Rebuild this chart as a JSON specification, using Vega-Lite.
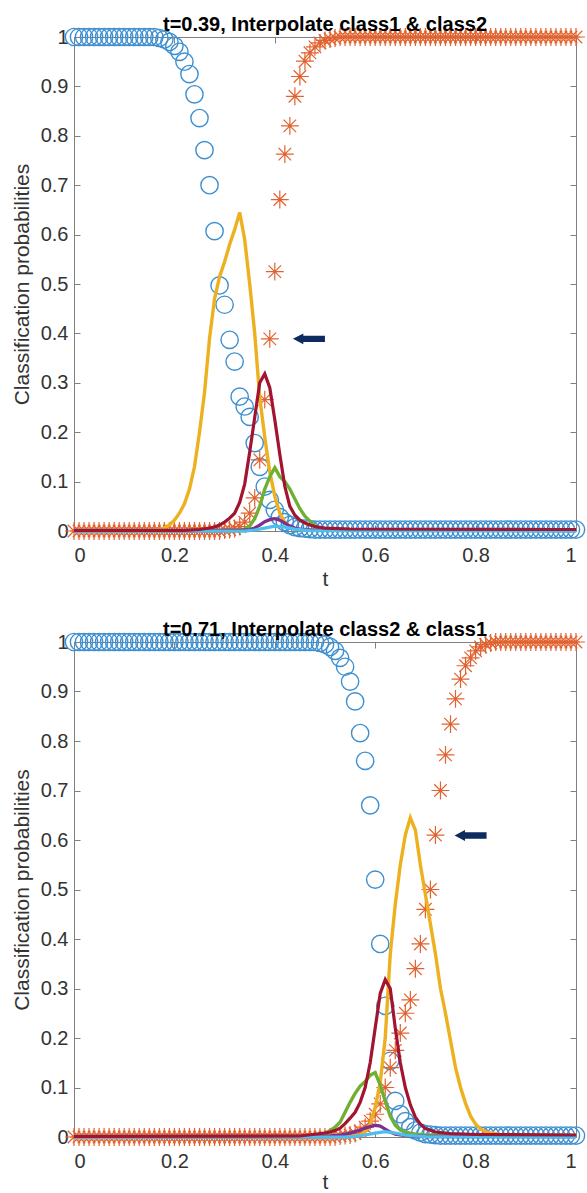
{
  "$schema": "https://vega.github.io/schema/vega-lite/v6.json",
  "padding": {"left": 11, "top": 14, "right": 0, "bottom": 0},
  "spacing": 30,
  "config": {
    "font": "Liberation Sans",
    "view": {"stroke": null},
    "axis": {
      "grid": false,
      "domainColor": "#808080",
      "tickColor": "#808080",
      "domainWidth": 1,
      "tickWidth": 1,
      "tickSize": -6,
      "labelColor": "#333333",
      "labelFontSize": 20,
      "titleFontSize": 21,
      "titleFontWeight": "normal",
      "titleColor": "#333333"
    },
    "title": {"fontSize": 20, "fontWeight": "bold", "color": "#000000", "anchor": "middle", "baseline": "alphabetic", "offset": -9}
  },
  "datasets": {
    "pts1": [
      {"t":0,"c1":1,"c2":0},{"t":0.01,"c1":1,"c2":0},{"t":0.02,"c1":1,"c2":0},{"t":0.03,"c1":1,"c2":0},{"t":0.04,"c1":1,"c2":0},
      {"t":0.05,"c1":1,"c2":0},{"t":0.06,"c1":1,"c2":0},{"t":0.07,"c1":1,"c2":0},{"t":0.08,"c1":1,"c2":0},{"t":0.09,"c1":1,"c2":0},
      {"t":0.1,"c1":1,"c2":0},{"t":0.11,"c1":1,"c2":0},{"t":0.12,"c1":1,"c2":0},{"t":0.13,"c1":1,"c2":0},{"t":0.14,"c1":1,"c2":0},
      {"t":0.15,"c1":1,"c2":0},{"t":0.16,"c1":1,"c2":0},{"t":0.17,"c1":0.998,"c2":0},{"t":0.18,"c1":0.995,"c2":0},{"t":0.19,"c1":0.99,"c2":0},
      {"t":0.2,"c1":0.982,"c2":0},{"t":0.21,"c1":0.97,"c2":0},{"t":0.22,"c1":0.95,"c2":0},{"t":0.23,"c1":0.925,"c2":0},{"t":0.24,"c1":0.884,"c2":0},
      {"t":0.25,"c1":0.836,"c2":0},{"t":0.26,"c1":0.771,"c2":0},{"t":0.27,"c1":0.7,"c2":0},{"t":0.28,"c1":0.607,"c2":0},{"t":0.29,"c1":0.497,"c2":0},
      {"t":0.3,"c1":0.458,"c2":0.002},{"t":0.31,"c1":0.387,"c2":0.003},{"t":0.32,"c1":0.343,"c2":0.005},{"t":0.33,"c1":0.272,"c2":0.009},{"t":0.34,"c1":0.252,"c2":0.018},
      {"t":0.35,"c1":0.231,"c2":0.036},{"t":0.36,"c1":0.178,"c2":0.067},{"t":0.37,"c1":0.13,"c2":0.144},{"t":0.38,"c1":0.09,"c2":0.266},{"t":0.39,"c1":0.063,"c2":0.389},
      {"t":0.4,"c1":0.043,"c2":0.525},{"t":0.41,"c1":0.028,"c2":0.671},{"t":0.42,"c1":0.018,"c2":0.763},{"t":0.43,"c1":0.012,"c2":0.82},{"t":0.44,"c1":0.008,"c2":0.88},
      {"t":0.45,"c1":0.006,"c2":0.92},{"t":0.46,"c1":0.005,"c2":0.951},{"t":0.47,"c1":0.004,"c2":0.968},{"t":0.48,"c1":0.003,"c2":0.98},{"t":0.49,"c1":0.003,"c2":0.988},
      {"t":0.5,"c1":0.003,"c2":0.993},{"t":0.51,"c1":0.003,"c2":0.996},{"t":0.52,"c1":0.003,"c2":0.998},{"t":0.53,"c1":0.003,"c2":1},{"t":0.54,"c1":0.003,"c2":1},
      {"t":0.55,"c1":0.003,"c2":1},{"t":0.56,"c1":0.003,"c2":1},{"t":0.57,"c1":0.003,"c2":1},{"t":0.58,"c1":0.003,"c2":1},{"t":0.59,"c1":0.003,"c2":1},
      {"t":0.6,"c1":0.003,"c2":1},{"t":0.61,"c1":0.003,"c2":1},{"t":0.62,"c1":0.003,"c2":1},{"t":0.63,"c1":0.003,"c2":1},{"t":0.64,"c1":0.003,"c2":1},
      {"t":0.65,"c1":0.003,"c2":1},{"t":0.66,"c1":0.003,"c2":1},{"t":0.67,"c1":0.003,"c2":1},{"t":0.68,"c1":0.003,"c2":1},{"t":0.69,"c1":0.003,"c2":1},
      {"t":0.7,"c1":0.003,"c2":1},{"t":0.71,"c1":0.003,"c2":1},{"t":0.72,"c1":0.003,"c2":1},{"t":0.73,"c1":0.003,"c2":1},{"t":0.74,"c1":0.003,"c2":1},
      {"t":0.75,"c1":0.003,"c2":1},{"t":0.76,"c1":0.003,"c2":1},{"t":0.77,"c1":0.003,"c2":1},{"t":0.78,"c1":0.003,"c2":1},{"t":0.79,"c1":0.003,"c2":1},
      {"t":0.8,"c1":0.003,"c2":1},{"t":0.81,"c1":0.003,"c2":1},{"t":0.82,"c1":0.003,"c2":1},{"t":0.83,"c1":0.003,"c2":1},{"t":0.84,"c1":0.003,"c2":1},
      {"t":0.85,"c1":0.003,"c2":1},{"t":0.86,"c1":0.003,"c2":1},{"t":0.87,"c1":0.003,"c2":1},{"t":0.88,"c1":0.003,"c2":1},{"t":0.89,"c1":0.003,"c2":1},
      {"t":0.9,"c1":0.003,"c2":1},{"t":0.91,"c1":0.003,"c2":1},{"t":0.92,"c1":0.003,"c2":1},{"t":0.93,"c1":0.003,"c2":1},{"t":0.94,"c1":0.003,"c2":1},
      {"t":0.95,"c1":0.003,"c2":1},{"t":0.96,"c1":0.003,"c2":1},{"t":0.97,"c1":0.003,"c2":1},{"t":0.98,"c1":0.003,"c2":1},{"t":0.99,"c1":0.003,"c2":1},
      {"t":1,"c1":0.003,"c2":1}
    ],
    "lines1": [
      {"s":"yellow","t":0,"p":0.001},{"s":"yellow","t":0.15,"p":0.001},{"s":"yellow","t":0.16,"p":0.002},{"s":"yellow","t":0.17,"p":0.003},{"s":"yellow","t":0.18,"p":0.006},
      {"s":"yellow","t":0.19,"p":0.012},{"s":"yellow","t":0.2,"p":0.022},{"s":"yellow","t":0.21,"p":0.036},{"s":"yellow","t":0.22,"p":0.055},{"s":"yellow","t":0.23,"p":0.085},
      {"s":"yellow","t":0.24,"p":0.13},{"s":"yellow","t":0.25,"p":0.2},{"s":"yellow","t":0.26,"p":0.28},{"s":"yellow","t":0.27,"p":0.39},{"s":"yellow","t":0.28,"p":0.47},
      {"s":"yellow","t":0.29,"p":0.515},{"s":"yellow","t":0.3,"p":0.545},{"s":"yellow","t":0.31,"p":0.58},{"s":"yellow","t":0.32,"p":0.61},{"s":"yellow","t":0.33,"p":0.645},
      {"s":"yellow","t":0.34,"p":0.59},{"s":"yellow","t":0.35,"p":0.5},{"s":"yellow","t":0.36,"p":0.4},{"s":"yellow","t":0.37,"p":0.27},{"s":"yellow","t":0.38,"p":0.19},
      {"s":"yellow","t":0.39,"p":0.12},{"s":"yellow","t":0.4,"p":0.07},{"s":"yellow","t":0.41,"p":0.036},{"s":"yellow","t":0.42,"p":0.017},{"s":"yellow","t":0.43,"p":0.008},
      {"s":"yellow","t":0.44,"p":0.004},{"s":"yellow","t":0.46,"p":0.002},{"s":"yellow","t":1,"p":0.001},
      {"s":"green","t":0,"p":0.001},{"s":"green","t":0.3,"p":0.001},{"s":"green","t":0.33,"p":0.002},{"s":"green","t":0.34,"p":0.004},{"s":"green","t":0.35,"p":0.01},
      {"s":"green","t":0.36,"p":0.025},{"s":"green","t":0.37,"p":0.05},{"s":"green","t":0.38,"p":0.085},{"s":"green","t":0.39,"p":0.11},{"s":"green","t":0.4,"p":0.128},
      {"s":"green","t":0.41,"p":0.11},{"s":"green","t":0.42,"p":0.1},{"s":"green","t":0.43,"p":0.085},{"s":"green","t":0.44,"p":0.065},{"s":"green","t":0.45,"p":0.045},
      {"s":"green","t":0.46,"p":0.03},{"s":"green","t":0.47,"p":0.02},{"s":"green","t":0.48,"p":0.01},{"s":"green","t":0.49,"p":0.005},{"s":"green","t":0.5,"p":0.003},{"s":"green","t":1,"p":0.002},
      {"s":"purple","t":0,"p":0.001},{"s":"purple","t":0.33,"p":0.001},{"s":"purple","t":0.35,"p":0.003},{"s":"purple","t":0.36,"p":0.006},{"s":"purple","t":0.37,"p":0.012},
      {"s":"purple","t":0.38,"p":0.019},{"s":"purple","t":0.39,"p":0.023},{"s":"purple","t":0.4,"p":0.025},{"s":"purple","t":0.41,"p":0.022},{"s":"purple","t":0.42,"p":0.016},
      {"s":"purple","t":0.43,"p":0.01},{"s":"purple","t":0.44,"p":0.006},{"s":"purple","t":0.45,"p":0.004},{"s":"purple","t":0.47,"p":0.002},{"s":"purple","t":1,"p":0.001},
      {"s":"cyan","t":0,"p":0},{"s":"cyan","t":0.34,"p":0},{"s":"cyan","t":0.36,"p":0.002},{"s":"cyan","t":0.38,"p":0.006},{"s":"cyan","t":0.4,"p":0.01},
      {"s":"cyan","t":0.42,"p":0.008},{"s":"cyan","t":0.44,"p":0.004},{"s":"cyan","t":0.47,"p":0.001},{"s":"cyan","t":1,"p":0},
      {"s":"red","t":0,"p":0.001},{"s":"red","t":0.22,"p":0.001},{"s":"red","t":0.25,"p":0.003},{"s":"red","t":0.27,"p":0.006},{"s":"red","t":0.28,"p":0.008},
      {"s":"red","t":0.29,"p":0.012},{"s":"red","t":0.3,"p":0.018},{"s":"red","t":0.31,"p":0.026},{"s":"red","t":0.32,"p":0.036},{"s":"red","t":0.33,"p":0.058},
      {"s":"red","t":0.34,"p":0.095},{"s":"red","t":0.35,"p":0.16},{"s":"red","t":0.36,"p":0.23},{"s":"red","t":0.37,"p":0.3},{"s":"red","t":0.38,"p":0.318},
      {"s":"red","t":0.39,"p":0.29},{"s":"red","t":0.4,"p":0.225},{"s":"red","t":0.41,"p":0.155},{"s":"red","t":0.42,"p":0.09},{"s":"red","t":0.43,"p":0.05},
      {"s":"red","t":0.44,"p":0.032},{"s":"red","t":0.45,"p":0.022},{"s":"red","t":0.46,"p":0.016},{"s":"red","t":0.47,"p":0.012},{"s":"red","t":0.48,"p":0.009},
      {"s":"red","t":0.5,"p":0.006},{"s":"red","t":0.55,"p":0.004},{"s":"red","t":1,"p":0.003}
    ],
    "arrow1": [{"t":0.468,"p":0.389}],
    "pts2": [
      {"t":0,"c1":1,"c2":0},{"t":0.01,"c1":1,"c2":0},{"t":0.02,"c1":1,"c2":0},{"t":0.03,"c1":1,"c2":0},{"t":0.04,"c1":1,"c2":0},
      {"t":0.05,"c1":1,"c2":0},{"t":0.06,"c1":1,"c2":0},{"t":0.07,"c1":1,"c2":0},{"t":0.08,"c1":1,"c2":0},{"t":0.09,"c1":1,"c2":0},
      {"t":0.1,"c1":1,"c2":0},{"t":0.11,"c1":1,"c2":0},{"t":0.12,"c1":1,"c2":0},{"t":0.13,"c1":1,"c2":0},{"t":0.14,"c1":1,"c2":0},
      {"t":0.15,"c1":1,"c2":0},{"t":0.16,"c1":1,"c2":0},{"t":0.17,"c1":1,"c2":0},{"t":0.18,"c1":1,"c2":0},{"t":0.19,"c1":1,"c2":0},
      {"t":0.2,"c1":1,"c2":0},{"t":0.21,"c1":1,"c2":0},{"t":0.22,"c1":1,"c2":0},{"t":0.23,"c1":1,"c2":0},{"t":0.24,"c1":1,"c2":0},
      {"t":0.25,"c1":1,"c2":0},{"t":0.26,"c1":1,"c2":0},{"t":0.27,"c1":1,"c2":0},{"t":0.28,"c1":1,"c2":0},{"t":0.29,"c1":1,"c2":0},
      {"t":0.3,"c1":1,"c2":0},{"t":0.31,"c1":1,"c2":0},{"t":0.32,"c1":1,"c2":0},{"t":0.33,"c1":1,"c2":0},{"t":0.34,"c1":1,"c2":0},
      {"t":0.35,"c1":1,"c2":0},{"t":0.36,"c1":1,"c2":0},{"t":0.37,"c1":1,"c2":0},{"t":0.38,"c1":1,"c2":0},{"t":0.39,"c1":1,"c2":0},
      {"t":0.4,"c1":1,"c2":0},{"t":0.41,"c1":1,"c2":0},{"t":0.42,"c1":1,"c2":0},{"t":0.43,"c1":1,"c2":0},{"t":0.44,"c1":1,"c2":0},
      {"t":0.45,"c1":1,"c2":0},{"t":0.46,"c1":1,"c2":0},{"t":0.47,"c1":1,"c2":0},{"t":0.48,"c1":1,"c2":0},{"t":0.49,"c1":0.998,"c2":0},
      {"t":0.5,"c1":0.995,"c2":0},{"t":0.51,"c1":0.99,"c2":0},{"t":0.52,"c1":0.982,"c2":0},{"t":0.53,"c1":0.968,"c2":0.002},{"t":0.54,"c1":0.95,"c2":0.003},
      {"t":0.55,"c1":0.92,"c2":0.004},{"t":0.56,"c1":0.88,"c2":0.007},{"t":0.57,"c1":0.816,"c2":0.012},{"t":0.58,"c1":0.76,"c2":0.02},{"t":0.59,"c1":0.67,"c2":0.032},
      {"t":0.6,"c1":0.52,"c2":0.046},{"t":0.61,"c1":0.39,"c2":0.067},{"t":0.62,"c1":0.265,"c2":0.1},{"t":0.63,"c1":0.154,"c2":0.14},{"t":0.64,"c1":0.073,"c2":0.175},
      {"t":0.65,"c1":0.046,"c2":0.21},{"t":0.66,"c1":0.032,"c2":0.25},{"t":0.67,"c1":0.02,"c2":0.277},{"t":0.68,"c1":0.013,"c2":0.34},{"t":0.69,"c1":0.009,"c2":0.39},
      {"t":0.7,"c1":0.006,"c2":0.46},{"t":0.71,"c1":0.005,"c2":0.5},{"t":0.72,"c1":0.004,"c2":0.61},{"t":0.73,"c1":0.003,"c2":0.7},{"t":0.74,"c1":0.003,"c2":0.772},
      {"t":0.75,"c1":0.003,"c2":0.834},{"t":0.76,"c1":0.003,"c2":0.885},{"t":0.77,"c1":0.003,"c2":0.925},{"t":0.78,"c1":0.003,"c2":0.952},{"t":0.79,"c1":0.003,"c2":0.968},
      {"t":0.8,"c1":0.003,"c2":0.982},{"t":0.81,"c1":0.003,"c2":0.99},{"t":0.82,"c1":0.003,"c2":0.995},{"t":0.83,"c1":0.003,"c2":0.998},{"t":0.84,"c1":0.003,"c2":1},
      {"t":0.85,"c1":0.003,"c2":1},{"t":0.86,"c1":0.003,"c2":1},{"t":0.87,"c1":0.003,"c2":1},{"t":0.88,"c1":0.003,"c2":1},{"t":0.89,"c1":0.003,"c2":1},
      {"t":0.9,"c1":0.003,"c2":1},{"t":0.91,"c1":0.003,"c2":1},{"t":0.92,"c1":0.003,"c2":1},{"t":0.93,"c1":0.003,"c2":1},{"t":0.94,"c1":0.003,"c2":1},
      {"t":0.95,"c1":0.003,"c2":1},{"t":0.96,"c1":0.003,"c2":1},{"t":0.97,"c1":0.003,"c2":1},{"t":0.98,"c1":0.003,"c2":1},{"t":0.99,"c1":0.003,"c2":1},
      {"t":1,"c1":0.003,"c2":1}
    ],
    "lines2": [
      {"s":"yellow","t":0,"p":0.001},{"s":"yellow","t":0.55,"p":0.001},{"s":"yellow","t":0.57,"p":0.004},{"s":"yellow","t":0.58,"p":0.01},{"s":"yellow","t":0.59,"p":0.026},
      {"s":"yellow","t":0.6,"p":0.06},{"s":"yellow","t":0.61,"p":0.11},{"s":"yellow","t":0.62,"p":0.2},{"s":"yellow","t":0.63,"p":0.37},{"s":"yellow","t":0.64,"p":0.47},
      {"s":"yellow","t":0.65,"p":0.55},{"s":"yellow","t":0.66,"p":0.61},{"s":"yellow","t":0.67,"p":0.645},{"s":"yellow","t":0.68,"p":0.62},{"s":"yellow","t":0.69,"p":0.55},
      {"s":"yellow","t":0.7,"p":0.49},{"s":"yellow","t":0.71,"p":0.43},{"s":"yellow","t":0.72,"p":0.37},{"s":"yellow","t":0.73,"p":0.3},{"s":"yellow","t":0.74,"p":0.25},
      {"s":"yellow","t":0.75,"p":0.195},{"s":"yellow","t":0.76,"p":0.14},{"s":"yellow","t":0.77,"p":0.1},{"s":"yellow","t":0.78,"p":0.068},{"s":"yellow","t":0.79,"p":0.042},
      {"s":"yellow","t":0.8,"p":0.026},{"s":"yellow","t":0.81,"p":0.016},{"s":"yellow","t":0.82,"p":0.011},{"s":"yellow","t":0.83,"p":0.008},{"s":"yellow","t":0.85,"p":0.005},
      {"s":"yellow","t":0.9,"p":0.003},{"s":"yellow","t":1,"p":0.002},
      {"s":"green","t":0,"p":0.001},{"s":"green","t":0.45,"p":0.001},{"s":"green","t":0.48,"p":0.003},{"s":"green","t":0.5,"p":0.007},{"s":"green","t":0.51,"p":0.013},
      {"s":"green","t":0.52,"p":0.02},{"s":"green","t":0.53,"p":0.03},{"s":"green","t":0.54,"p":0.05},{"s":"green","t":0.55,"p":0.07},{"s":"green","t":0.56,"p":0.088},
      {"s":"green","t":0.57,"p":0.103},{"s":"green","t":0.58,"p":0.112},{"s":"green","t":0.59,"p":0.125},{"s":"green","t":0.6,"p":0.13},{"s":"green","t":0.61,"p":0.105},
      {"s":"green","t":0.62,"p":0.072},{"s":"green","t":0.63,"p":0.042},{"s":"green","t":0.64,"p":0.024},{"s":"green","t":0.65,"p":0.014},{"s":"green","t":0.66,"p":0.01},
      {"s":"green","t":0.68,"p":0.006},{"s":"green","t":0.7,"p":0.004},{"s":"green","t":1,"p":0.003},
      {"s":"purple","t":0,"p":0.001},{"s":"purple","t":0.5,"p":0.001},{"s":"purple","t":0.53,"p":0.004},{"s":"purple","t":0.55,"p":0.008},{"s":"purple","t":0.57,"p":0.014},
      {"s":"purple","t":0.58,"p":0.018},{"s":"purple","t":0.59,"p":0.021},{"s":"purple","t":0.6,"p":0.024},{"s":"purple","t":0.61,"p":0.022},{"s":"purple","t":0.62,"p":0.016},
      {"s":"purple","t":0.63,"p":0.01},{"s":"purple","t":0.64,"p":0.006},{"s":"purple","t":0.66,"p":0.003},{"s":"purple","t":0.7,"p":0.001},{"s":"purple","t":1,"p":0.001},
      {"s":"cyan","t":0,"p":0},{"s":"cyan","t":0.55,"p":0},{"s":"cyan","t":0.58,"p":0.004},{"s":"cyan","t":0.6,"p":0.008},{"s":"cyan","t":0.62,"p":0.011},
      {"s":"cyan","t":0.64,"p":0.008},{"s":"cyan","t":0.66,"p":0.004},{"s":"cyan","t":0.7,"p":0.001},{"s":"cyan","t":1,"p":0},
      {"s":"red","t":0,"p":0.001},{"s":"red","t":0.45,"p":0.002},{"s":"red","t":0.5,"p":0.008},{"s":"red","t":0.51,"p":0.01},{"s":"red","t":0.52,"p":0.013},
      {"s":"red","t":0.53,"p":0.018},{"s":"red","t":0.54,"p":0.027},{"s":"red","t":0.55,"p":0.038},{"s":"red","t":0.56,"p":0.05},{"s":"red","t":0.57,"p":0.07},
      {"s":"red","t":0.58,"p":0.1},{"s":"red","t":0.59,"p":0.15},{"s":"red","t":0.6,"p":0.22},{"s":"red","t":0.61,"p":0.29},{"s":"red","t":0.62,"p":0.318},
      {"s":"red","t":0.63,"p":0.3},{"s":"red","t":0.64,"p":0.22},{"s":"red","t":0.65,"p":0.15},{"s":"red","t":0.66,"p":0.1},{"s":"red","t":0.67,"p":0.065},
      {"s":"red","t":0.68,"p":0.04},{"s":"red","t":0.69,"p":0.026},{"s":"red","t":0.7,"p":0.017},{"s":"red","t":0.72,"p":0.01},{"s":"red","t":0.75,"p":0.007},
      {"s":"red","t":0.8,"p":0.005},{"s":"red","t":1,"p":0.004}
    ],
    "arrow2": [{"t":0.79,"p":0.609}]
  },
  "vconcat": [
    {
      "width": 502,
      "height": 494,
      "title": "t=0.39, Interpolate class1 & class2",
      "layer": [
        {
          "data": {"name": "pts1"},
          "mark": {"type": "point", "shape": "circle", "filled": false, "size": 300, "strokeWidth": 1.4, "color": "#3d8fd0", "opacity": 1},
          "encoding": {
            "x": {"field": "t", "type": "quantitative", "scale": {"domain": [0, 1], "nice": false, "zero": false},
                  "axis": {"orient": "bottom", "values": [0, 0.2, 0.4, 0.6, 0.8, 1], "format": "~g", "title": "t", "labelPadding": 20, "titlePadding": 3}},
            "y": {"field": "c1", "type": "quantitative", "scale": {"domain": [0, 1], "nice": false},
                  "axis": {"orient": "left", "values": [0, 0.1, 0.2, 0.3, 0.4, 0.5, 0.6, 0.7, 0.8, 0.9, 1], "format": "~g", "title": "Classification probabilities", "labelPadding": 12, "titlePadding": 8}}
          }
        },
        {
          "data": {"name": "pts1"},
          "mark": {"type": "point", "shape": "M-1,0L1,0M0,-1L0,1M-0.7,-0.7L0.7,0.7M-0.7,0.7L0.7,-0.7", "filled": false, "size": 320, "strokeWidth": 1.2, "color": "#e2622f", "opacity": 1},
          "encoding": {
            "x": {"field": "t", "type": "quantitative", "axis": {"orient": "top", "values": [0, 0.2, 0.4, 0.6, 0.8, 1], "labels": false, "title": null, "minExtent": 0, "maxExtent": 0}},
            "y": {"field": "c2", "type": "quantitative", "axis": {"orient": "right", "values": [0, 0.1, 0.2, 0.3, 0.4, 0.5, 0.6, 0.7, 0.8, 0.9, 1], "labels": false, "title": null, "minExtent": 0, "maxExtent": 0}}
          }
        },
        {
          "data": {"name": "lines1"},
          "mark": {"type": "line"},
          "encoding": {
            "x": {"field": "t", "type": "quantitative", "axis": null},
            "y": {"field": "p", "type": "quantitative", "axis": null},
            "color": {"field": "s", "type": "nominal", "legend": null, "sort": null,
                      "scale": {"domain": ["yellow", "green", "purple", "cyan", "red"], "range": ["#EDB120", "#6FAF32", "#7E2F8E", "#4DBEEE", "#A2142F"]}},
            "strokeWidth": {"field": "s", "type": "nominal", "legend": null,
                      "scale": {"domain": ["yellow", "green", "purple", "cyan", "red"], "range": [3.4, 3.2, 2.8, 2.2, 3.4]}}
          }
        },
        {
          "data": {"name": "arrow1"},
          "mark": {"type": "point", "shape": "M-1,0L-0.35,-0.34L-0.35,-0.2L1,-0.2L1,0.2L-0.35,0.2L-0.35,0.34Z", "filled": true, "size": 1024, "color": "#0e2a5e", "opacity": 1},
          "encoding": {
            "x": {"field": "t", "type": "quantitative", "axis": null},
            "y": {"field": "p", "type": "quantitative", "axis": null}
          }
        }
      ],
      "resolve": {"axis": {"x": "independent", "y": "independent"}}
    },
    {
      "width": 502,
      "height": 495,
      "title": "t=0.71, Interpolate class2 & class1",
      "layer": [
        {
          "data": {"name": "pts2"},
          "mark": {"type": "point", "shape": "circle", "filled": false, "size": 300, "strokeWidth": 1.4, "color": "#3d8fd0", "opacity": 1},
          "encoding": {
            "x": {"field": "t", "type": "quantitative", "scale": {"domain": [0, 1], "nice": false, "zero": false},
                  "axis": {"orient": "bottom", "values": [0, 0.2, 0.4, 0.6, 0.8, 1], "format": "~g", "title": "t", "labelPadding": 20, "titlePadding": 0}},
            "y": {"field": "c1", "type": "quantitative", "scale": {"domain": [0, 1], "nice": false},
                  "axis": {"orient": "left", "values": [0, 0.1, 0.2, 0.3, 0.4, 0.5, 0.6, 0.7, 0.8, 0.9, 1], "format": "~g", "title": "Classification probabilities", "labelPadding": 12, "titlePadding": 8}}
          }
        },
        {
          "data": {"name": "pts2"},
          "mark": {"type": "point", "shape": "M-1,0L1,0M0,-1L0,1M-0.7,-0.7L0.7,0.7M-0.7,0.7L0.7,-0.7", "filled": false, "size": 320, "strokeWidth": 1.2, "color": "#e2622f", "opacity": 1},
          "encoding": {
            "x": {"field": "t", "type": "quantitative", "axis": {"orient": "top", "values": [0, 0.2, 0.4, 0.6, 0.8, 1], "labels": false, "title": null, "minExtent": 0, "maxExtent": 0}},
            "y": {"field": "c2", "type": "quantitative", "axis": {"orient": "right", "values": [0, 0.1, 0.2, 0.3, 0.4, 0.5, 0.6, 0.7, 0.8, 0.9, 1], "labels": false, "title": null, "minExtent": 0, "maxExtent": 0}}
          }
        },
        {
          "data": {"name": "lines2"},
          "mark": {"type": "line"},
          "encoding": {
            "x": {"field": "t", "type": "quantitative", "axis": null},
            "y": {"field": "p", "type": "quantitative", "axis": null},
            "color": {"field": "s", "type": "nominal", "legend": null, "sort": null,
                      "scale": {"domain": ["yellow", "green", "purple", "cyan", "red"], "range": ["#EDB120", "#6FAF32", "#7E2F8E", "#4DBEEE", "#A2142F"]}},
            "strokeWidth": {"field": "s", "type": "nominal", "legend": null,
                      "scale": {"domain": ["yellow", "green", "purple", "cyan", "red"], "range": [3.4, 3.2, 2.8, 2.2, 3.4]}}
          }
        },
        {
          "data": {"name": "arrow2"},
          "mark": {"type": "point", "shape": "M-1,0L-0.35,-0.34L-0.35,-0.2L1,-0.2L1,0.2L-0.35,0.2L-0.35,0.34Z", "filled": true, "size": 1024, "color": "#0e2a5e", "opacity": 1},
          "encoding": {
            "x": {"field": "t", "type": "quantitative", "axis": null},
            "y": {"field": "p", "type": "quantitative", "axis": null}
          }
        }
      ],
      "resolve": {"axis": {"x": "independent", "y": "independent"}}
    }
  ]
}
